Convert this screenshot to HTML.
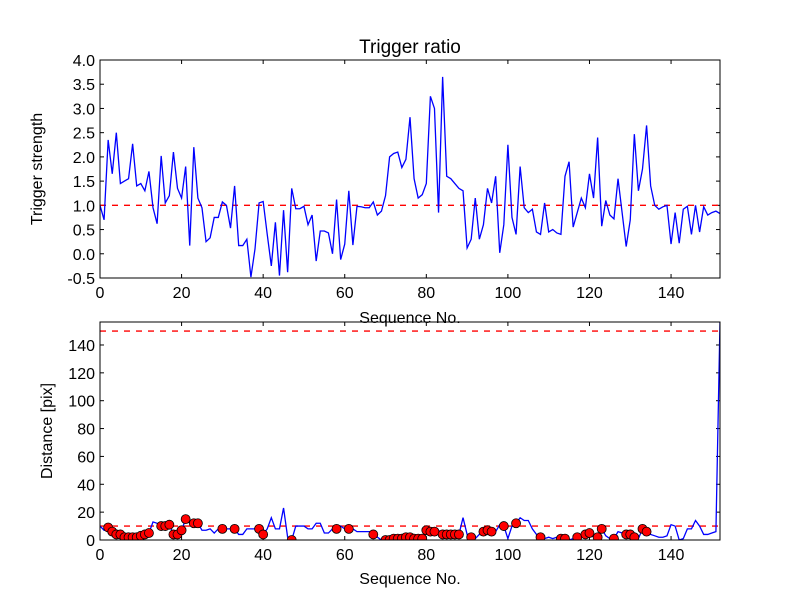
<!DOCTYPE html>
<html><head><meta charset="utf-8"><style>
body{margin:0;background:#fff}
svg{display:block;font-family:"Liberation Sans",sans-serif}
</style></head><body>
<svg id="c" width="800" height="600"></svg>
<script>
const seqIndex=[];for(let i=0;i<=152;i++)seqIndex.push(i);
const triggerStrength=[1.0,0.7,2.35,1.65,2.5,1.45,1.5,1.55,2.27,1.4,1.45,1.3,1.7,0.95,0.62,2.02,1.05,1.2,2.1,1.35,1.15,1.8,0.17,2.2,1.15,0.95,0.25,0.33,0.75,0.75,1.07,1.0,0.53,1.4,0.17,0.17,0.3,-0.48,0.1,1.05,1.08,0.4,-0.25,0.65,-0.45,0.9,-0.38,1.35,0.93,0.93,0.98,0.6,0.8,-0.15,0.47,0.47,0.43,0.0,1.12,-0.12,0.2,1.3,0.18,0.98,0.97,0.95,0.95,1.07,0.8,0.88,1.2,2.0,2.07,2.1,1.78,1.95,2.82,1.55,1.15,1.22,1.45,3.25,3.0,0.85,3.65,1.6,1.55,1.45,1.35,1.3,0.12,0.3,1.15,0.3,0.6,1.35,1.05,1.6,0.02,0.6,2.25,0.75,0.4,1.8,0.95,0.85,0.92,0.45,0.4,1.05,0.45,0.5,0.43,0.4,1.6,1.9,0.55,0.85,1.15,0.95,1.65,1.15,2.4,0.57,1.1,0.8,0.72,1.55,0.85,0.15,0.7,2.47,1.3,1.75,2.65,1.4,1.0,0.92,0.97,1.0,0.2,0.85,0.22,0.92,0.98,0.4,1.0,0.45,0.97,0.8,0.85,0.88,0.83];
const distance=[10,7,9,6,4,4,2,2,2,2,3,4,5,13,12,10,10,11,4,4,7,15,12,12,12,7,7,8,5,8,8,8,8,8,4,4,8,8,8,8,4,8,16,8,8,23,2,0,10,10,10,8,8,12,12,5,5,8,8,10,8,8,8,6,6,6,6,4,2,0,0,0,1,1,1,2,2,1,1,1,7,6,6,7,4,4,4,4,4,16,4,2,1,4,6,7,6,6,11,10,1,10,12,16,14,14,8,4,2,1,2,1,2,1,1,0,1,2,3,4,5,2,2,8,3,1,1,6,5,4,4,2,1,8,6,4,3,2,2,3,11,10,0,1,8,8,14,10,4,4,5,6,157];
const dotIndices=[2,3,4,5,6,7,8,9,10,11,12,15,16,17,18,19,20,21,23,24,30,33,39,40,47,58,61,67,70,71,72,73,74,75,76,77,78,79,80,81,82,84,85,86,87,88,91,94,95,96,99,102,108,113,114,117,119,120,122,123,126,129,130,131,133,134];
const xTicks=[0,20,40,60,80,100,120,140];
const topYTicks=[-0.5,0.0,0.5,1.0,1.5,2.0,2.5,3.0,3.5,4.0];
const botYTicks=[0,20,40,60,80,100,120,140];
const topThreshold=[1.0];
const botThresholds=[10,150];

const svg=document.getElementById('c');const NS='http://www.w3.org/2000/svg';
function mk(t,a,p){const e=document.createElementNS(NS,t);for(const k in a)e.setAttribute(k,a[k]);(p||svg).appendChild(e);return e;}
const L=100,R=720;
const sx=v=>L+v*(R-L)/152;
function panel(top,bot,ymin,ymax,yt,fmt,name){
  const sy=v=>bot-(v-ymin)*(bot-top)/(ymax-ymin);
  const g=mk('g',{});
  
  
  xTicks.forEach(t=>{const x=sx(t);
    mk('line',{x1:x,x2:x,y1:bot,y2:bot-4,stroke:'#000'},g);mk('line',{x1:x,x2:x,y1:top,y2:top+4,stroke:'#000'},g);
    const tx=mk('text',{x:x,y:bot+20,'font-size':16,'text-anchor':'middle'},g);tx.textContent=t;
    
    });
  yt.forEach(t=>{const y=sy(t);
    mk('line',{x1:L,x2:L+4,y1:y,y2:y,stroke:'#000'},g);mk('line',{x1:R,x2:R-4,y1:y,y2:y,stroke:'#000'},g);
    const tx=mk('text',{x:L-5,y:y+6,'font-size':16,'text-anchor':'end'},g);tx.textContent=fmt(t);
    
    });
  return {g,sy};
}
const P1=panel(60,278,-0.5,4.0,topYTicks,t=>t.toFixed(1),'trigger-panel');
topThreshold.forEach(v=>{const l=mk('line',{x1:L,x2:R,y1:P1.sy(v),y2:P1.sy(v),stroke:'#f00','stroke-width':1.4,'stroke-dasharray':'6,6'},P1.g);
  
  });
const l1=mk('polyline',{points:seqIndex.map(i=>sx(i)+','+P1.sy(triggerStrength[i])).join(' '),fill:'none',stroke:'#00f','stroke-width':1.3},P1.g);


mk('rect',{x:L,y:60,width:R-L,height:218,fill:'none',stroke:'#000'},P1.g);
const P2=panel(322,540,0,156.5,botYTicks,t=>t,'distance-panel');
const cp=mk('clipPath',{id:'cb'});mk('rect',{x:L,y:322,width:R-L,height:218},cp);
botThresholds.forEach(v=>{const l=mk('line',{x1:L,x2:R,y1:P2.sy(v),y2:P2.sy(v),stroke:'#f00','stroke-width':1.4,'stroke-dasharray':'6,6'},P2.g);
  
  });
const l2=mk('polyline',{points:seqIndex.map(i=>sx(i)+','+P2.sy(distance[i])).join(' '),fill:'none',stroke:'#00f','stroke-width':1.3,'clip-path':'url(#cb)'},P2.g);


dotIndices.forEach(i=>{const c=mk('circle',{cx:sx(i),cy:P2.sy(distance[i]),r:4.5,fill:'#f00',stroke:'#000','stroke-width':0.8,'clip-path':'url(#cb)'},P2.g);
  
  });
mk('rect',{x:L,y:322,width:R-L,height:218,fill:'none',stroke:'#000'},P2.g);
function txt(s,a,name){const t=mk('text',a);t.textContent=s;
  
  }
txt('Trigger ratio',{x:410,y:53,'font-size':19,'text-anchor':'middle'},'chart-title');
txt('Trigger strength',{x:0,y:0,'font-size':16,'text-anchor':'middle',transform:'translate(42,169) rotate(-90)'},'top-y-axis-title');
txt('Sequence No.',{x:410,y:323,'font-size':16,'text-anchor':'middle'},'top-x-axis-title');
txt('Distance [pix]',{x:0,y:0,'font-size':16,'text-anchor':'middle',transform:'translate(52,431) rotate(-90)'},'bottom-y-axis-title');
txt('Sequence No.',{x:410,y:584,'font-size':16,'text-anchor':'middle'},'bottom-x-axis-title');
</script>
</body></html>
